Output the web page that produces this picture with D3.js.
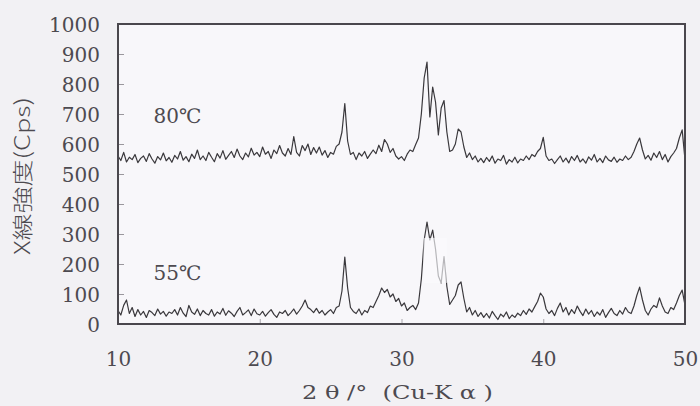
<!DOCTYPE html>
<html>
<head>
<meta charset="utf-8">
<script src="https://cdn.jsdelivr.net/npm/d3@7/dist/d3.min.js"></script>
<style>
  html, body { margin: 0; padding: 0; background: #f2f1f4; }
  svg { display: block; }
  text { white-space: pre; }
</style>
</head>
<body>
<svg id="chart" width="700" height="406"></svg>
<script>
// 2θ sampling: 10° to 50° in 0.2° steps
const thetaStart = 10, thetaStep = 0.2;

// XRD intensity (cps), sample dried at 80℃
const intensity80 = [
  560, 545, 572, 540, 556, 548, 565, 538, 552, 560,
  542, 568, 550, 536, 558, 547, 570, 544, 555, 539,
  562, 550, 575, 546, 558, 541, 566, 552, 580, 548,
  560, 545, 572, 556, 541, 568, 553, 578, 549, 562,
  575, 555, 583, 560, 548, 570, 557, 586, 563, 572,
  558, 590, 566, 575, 552, 580, 568, 595, 570, 560,
  585, 565, 625, 572, 560, 595, 578, 600, 565, 588,
  570, 590, 563, 578, 555, 572, 566, 592, 600, 640,
  735, 610, 565, 572, 548, 570, 560, 575, 552, 566,
  580, 568, 596, 575, 615, 600, 572, 585, 560, 550,
  558, 545, 566, 580, 575, 598, 620, 700, 820, 873,
  690, 790, 740, 630, 720, 745, 640, 575, 580, 600,
  650, 640, 590, 555, 570, 548, 560, 540, 552, 538,
  555, 542, 560, 536, 550, 545, 562, 533, 548, 540,
  556, 537, 550, 545, 560, 548, 565, 558, 575, 585,
  622, 560, 545, 550, 535, 548, 560, 540, 553, 537,
  558, 545, 562, 540, 550, 536, 557, 546, 565, 540,
  552, 538, 560, 547, 542, 556, 539, 550, 545, 560,
  548, 556, 575, 600, 620, 580, 550, 562, 546, 570,
  555, 575, 548, 565, 540, 558, 570, 585, 620, 647,
  548
];

// XRD intensity (cps), sample dried at 55℃
const intensity55 = [
  45, 30, 62, 80, 35, 55, 25, 48, 30, 42,
  22, 45, 38, 28, 50, 33, 42, 26, 40, 35,
  48, 30, 55, 36, 25, 62, 40, 32, 50, 28,
  45, 35, 30, 48, 26, 40, 33, 52, 29, 44,
  36, 25, 42, 55, 30, 38, 47, 28, 50, 34,
  30, 42, 26, 38, 48, 32, 22, 40, 35, 45,
  28, 38, 50, 33, 45, 60, 80, 55, 48, 38,
  52, 36, 45, 30, 40, 48, 35, 55, 60, 110,
  223, 120, 55, 42, 35, 50, 30, 45, 38, 60,
  55, 75, 95, 120, 105, 115, 90, 100, 75, 85,
  60, 70, 45, 55, 62, 48, 70, 150, 280, 340,
  280, 313, 250, 160, 137, 225, 125, 65, 80, 95,
  130, 140, 85, 40, 55, 30, 45, 25, 38, 22,
  35, 20, 42, 28, 15, 33, 24, 40, 18, 30,
  22, 36, 28, 45, 32, 50, 40, 58, 75, 103,
  90, 50, 35, 45, 28, 52, 70, 40, 55, 30,
  48, 35, 60, 42, 28, 50, 33, 45, 25, 40,
  30, 48, 22, 38, 52, 35, 28, 45, 33, 55,
  40, 35, 60, 95, 123, 80, 45, 30, 50, 62,
  55, 87, 60, 40, 35, 55, 48, 70, 95, 113,
  63
];

const xTicks = [10, 20, 30, 40, 50];
const yTicks = [0, 100, 200, 300, 400, 500, 600, 700, 800, 900, 1000];
const seriesLabels = [
  { text: "80℃", theta: 12.5, value: 670 },
  { text: "55℃", theta: 12.5, value: 146 }
];

const svg = d3.select("#chart");
const margin = { left: 118, top: 24, right: 15, bottom: 82 };
const W = 700, H = 406;
const x = d3.scaleLinear().domain([10, 50]).range([margin.left, W - margin.right]);
const y = d3.scaleLinear().domain([0, 1000]).range([H - margin.bottom, margin.top]);

const textColor = "#4d4a50";
const serif = "'DejaVu Serif', 'Liberation Serif', serif";

// plot area
svg.append("rect")
  .attr("x", x(10)).attr("y", y(1000))
  .attr("width", x(50) - x(10)).attr("height", y(0) - y(1000))
  .attr("fill", "#f8f7fa");

// inward tick marks
const leftAxis = d3.axisLeft(y).tickValues(yTicks).tickSize(-6).tickFormat(d => d).tickPadding(18);
const gy = svg.append("g").attr("transform", `translate(${x(10)},0)`).call(leftAxis);
gy.select(".domain").remove();
gy.selectAll(".tick line").attr("stroke", "#9a979d").attr("stroke-width", 1);
gy.selectAll(".tick text")
  .attr("font-family", serif).attr("font-size", 20).attr("fill", textColor)
  .attr("dy", "0.36em");

const bottomAxis = d3.axisBottom(x).tickValues(xTicks).tickSize(-5).tickFormat(d => d).tickPadding(28);
const gx = svg.append("g").attr("transform", `translate(0,${y(0)})`).call(bottomAxis);
gx.select(".domain").remove();
gx.selectAll(".tick line").attr("stroke", "#aaa7ad").attr("stroke-width", 1);
gx.selectAll(".tick text")
  .attr("font-family", serif).attr("font-size", 20).attr("fill", textColor);

// diffraction traces
const line = d3.line()
  .x((d, i) => x(thetaStart + i * thetaStep))
  .y(d => y(d));

[intensity80, intensity55].forEach(series => {
  svg.append("path")
    .datum(series)
    .attr("fill", "none")
    .attr("stroke", "#3a383c")
    .attr("stroke-width", 1.2)
    .attr("stroke-linejoin", "round")
    .attr("d", line);
});

// pale patch over the 55℃ main peak
svg.append("rect")
  .attr("x", x(31.55)).attr("y", y(287))
  .attr("width", x(33.2) - x(31.55)).attr("height", y(137) - y(287))
  .attr("fill", "#fbfbfd").attr("opacity", 0.65);

// frame
svg.append("rect")
  .attr("x", x(10)).attr("y", y(1000))
  .attr("width", x(50) - x(10)).attr("height", y(0) - y(1000))
  .attr("fill", "none").attr("stroke", "#4a474d").attr("stroke-width", 2);

// series labels
svg.selectAll(".series-label")
  .data(seriesLabels)
  .enter().append("text")
  .attr("class", "series-label")
  .attr("x", d => x(d.theta)).attr("y", d => y(d.value))
  .attr("font-family", serif).attr("font-size", 20).attr("fill", textColor)
  .text(d => d.text);

// axis titles
svg.append("text")
  .attr("x", 302).attr("y", 399)
  .attr("font-family", serif).attr("font-size", 19).attr("fill", textColor)
  .attr("textLength", 191).attr("lengthAdjust", "spacingAndGlyphs")
  .text("2 θ /°  (Cu-K α )");

svg.append("text")
  .attr("transform", "translate(30,176) rotate(-90)")
  .attr("text-anchor", "middle")
  .attr("font-family", "'Noto Sans CJK JP', sans-serif").attr("font-size", 21)
  .attr("font-weight", 300).attr("fill", textColor)
  .attr("textLength", 158).attr("lengthAdjust", "spacingAndGlyphs")
  .text("X線強度(Cps)");
</script>
</body>
</html>
